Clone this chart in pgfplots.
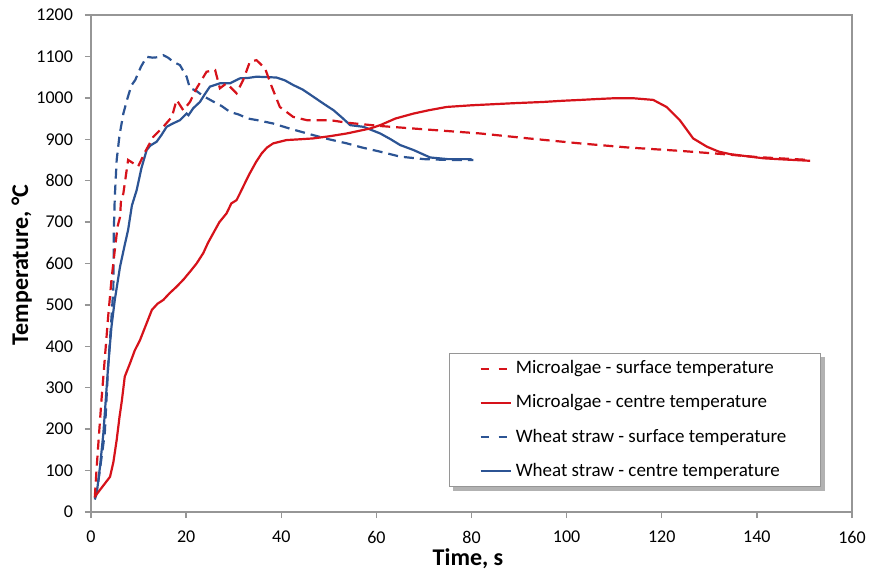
\documentclass[border=0pt]{standalone}
\usepackage{pgfplots}
\pgfplotsset{compat=1.18}
\usepackage{pgfplotstable}
\usepackage{fontspec}
\setmainfont{Carlito}
\usetikzlibrary{backgrounds}
\definecolor{cred}{RGB}{214,18,26}
\definecolor{cblue}{RGB}{44,84,148}
\definecolor{cgray}{RGB}{150,150,150}
\pgfplotsset{
 dashleg/.style={legend image code/.code={\draw[##1,dash pattern=on 4pt off 5pt](0pt,0pt)--(14pt,0pt);}},
 solidleg/.style={legend image code/.code={\draw[##1](0pt,0pt)--(15pt,0pt);}},
}
\pgfplotstableread{
t T
0.8 35
1.2 109
1.7 190
2.2 270
2.9 370
3.6 471
4.3 560
5.0 632
5.6 690
6.1 712
6.3 750
6.8 769
7.8 850
8.9 842
9.9 834
11.4 870
13.1 906
15.2 930
17.0 954
18.0 995
19.4 970
20.8 990
22.2 1023
24.3 1063
26.1 1067
27.1 1023
28.5 1035
30.6 1011
32.0 1043
33.4 1087
34.8 1091
36.6 1071
38.0 1027
39.7 978
42.5 954
45.4 946
50.3 946
53.8 940
60.8 932
70.0 924
81.8 914
92.0 902
102.8 890
113.0 880
123.8 872
133.0 864
140.0 857
151.0 850
}\msurf
\pgfplotstableread{
t T
0.8 37
2.0 55
3.0 70
4.0 85
4.7 120
5.4 174
6.0 230
6.5 270
7.1 327
8.2 359
9.2 390
10.3 415
11.5 450
12.8 488
14.0 503
15.2 512
16.5 528
18.0 544
19.5 562
20.8 580
22.2 600
23.6 625
24.6 650
25.7 673
27.0 700
28.5 721
29.5 745
30.6 753
31.3 769
32.4 795
33.4 818
34.7 845
35.9 866
37.0 880
38.3 890
41.1 898
44.0 900
46.7 902
50.0 907
53.8 914
58.7 926
60.8 934
64.0 950
67.8 962
71.0 970
74.8 978
80.0 982
88.8 987
95.0 990
99.3 993
103.0 995
106.3 997
110.0 999
114.0 999
118.2 995
121.0 978
123.8 946
126.6 902
129.5 882
132.0 870
134.4 864
141.4 854
146.0 851
151.2 848
}\mcent
\pgfplotstableread{
t T
0.8 35
1.5 70
2.2 130
2.9 190
3.6 351
4.2 450
4.7 540
4.8 680
5.0 760
5.4 850
6.0 910
6.8 962
7.7 1000
8.5 1030
9.3 1043
10.5 1075
11.7 1099
13.0 1097
14.0 1098
15.2 1103
16.2 1097
17.3 1087
18.7 1079
20.1 1051
20.8 1023
22.0 1018
23.5 1005
25.7 991
27.5 980
29.2 966
31.0 960
33.0 950
35.0 946
38.3 938
42.0 925
46.7 910
50.0 900
53.8 890
57.0 880
60.8 870
65.0 858
70.0 852
75.0 850
80.4 850
}\wsurf
\pgfplotstableread{
t T
0.8 30
1.2 45
1.9 110
2.6 190
3.1 270
3.6 351
4.3 447
5.0 512
6.1 592
7.0 640
7.8 681
8.6 740
9.6 777
10.6 830
11.7 874
12.5 885
13.8 894
14.8 910
15.9 930
17.2 938
18.7 946
20.1 962
20.5 958
21.5 975
22.9 990
24.0 1010
25.0 1027
27.1 1035
29.2 1035
31.3 1047
33.0 1048
34.8 1051
37.0 1050
39.0 1049
40.8 1042
42.5 1031
44.5 1020
46.7 1003
49.0 985
51.0 970
52.8 952
54.5 934
57.3 930
60.8 914
63.0 900
65.0 886
67.8 874
71.3 856
75.0 852
80.0 852
}\wcent
\begin{document}
\begin{tikzpicture}
\useasboundingbox (-45.5pt,-30.5pt) rectangle (390pt,256pt);
\begin{axis}[
 scale only axis,
 width=380.5pt, height=248.5pt,
 xmin=0, xmax=160, ymin=0, ymax=1200,
 xtick={0,20,...,160}, ytick={0,100,...,1200},
 xtick pos=bottom, ytick pos=left,
 tick align=outside, major tick length=3pt,
 axis line style={cgray, line width=0.8pt},
 tick style={cgray, line width=0.7pt},
 /pgf/number format/assume math mode=true,
 /pgf/number format/1000 sep={},
 tick label style={font=\fontsize{9}{9}\selectfont},
 xticklabel style={yshift=-3pt},
 yticklabel style={xshift=-2.5pt},
 xlabel={\textbf{Time, s}},
 ylabel={\textbf{Temperature, °C}},
 label style={font=\fontsize{12}{12}\selectfont},
 xlabel style={at={(axis description cs:0.4954,-0.0946)}, anchor=center},
 ylabel style={at={(axis description cs:-0.091,0.497)}, anchor=center},
 legend cell align=left,
 legend style={name=leg, at={(axis description cs:0.4704,0.32)}, anchor=north west,
   draw=cgray, fill=white, line width=0.6pt,
   font=\fontsize{9.5}{9.5}\selectfont, inner xsep=15pt, inner ysep=1.5pt,
   row sep=5pt},
]
\addplot[cblue, line width=1.1pt, dash pattern=on 5pt off 3pt, dashleg, forget plot] table[x=t,y=T]{\wsurf};
\addplot[cblue, line width=1.1pt, solidleg, forget plot] table[x=t,y=T]{\wcent};
\addplot[cred, line width=1.1pt, dash pattern=on 5pt off 3pt, dashleg] table[x=t,y=T]{\msurf};
\addlegendentry{Microalgae - surface temperature}
\addplot[cred, line width=1.1pt, solidleg] table[x=t,y=T]{\mcent};
\addlegendentry{Microalgae - centre temperature}
\addlegendimage{cblue, line width=1.1pt, dashleg}
\addlegendentry{Wheat straw - surface temperature}
\addlegendimage{cblue, line width=1.1pt, solidleg}
\addlegendentry{Wheat straw - centre temperature}
\end{axis}
\begin{scope}[on background layer]
\fill[black!30] ([shift={(2pt,-2pt)}]leg.south west) rectangle ([shift={(2pt,-2pt)}]leg.north east);
\end{scope}
\end{tikzpicture}
\end{document}
